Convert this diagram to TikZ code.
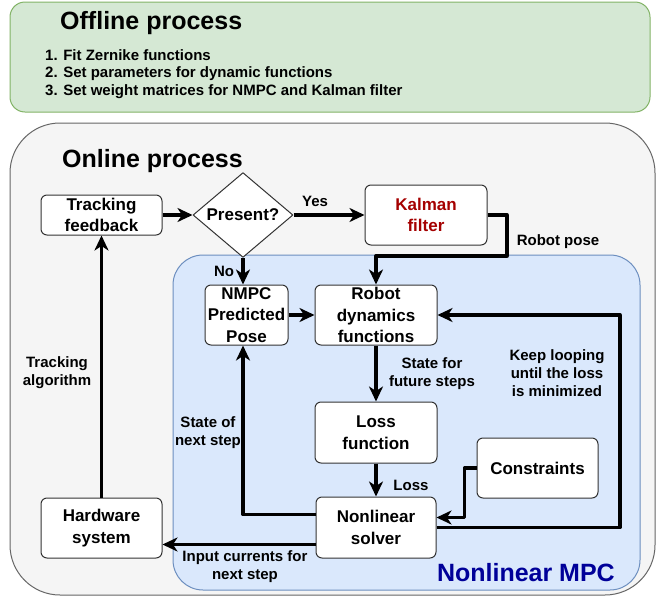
\documentclass[tikz,border=0pt]{standalone}
\usepackage{fontspec}
\setmainfont{Liberation Sans}
\usetikzlibrary{arrows.meta,shapes.geometric}

\definecolor{offfill}{HTML}{D5E8D4}
\definecolor{offdraw}{HTML}{82B366}
\definecolor{onfill}{HTML}{F5F5F5}
\definecolor{ondraw}{HTML}{666666}
\definecolor{mpcfill}{HTML}{DAE8FC}
\definecolor{mpcdraw}{HTML}{6C8EBF}
\definecolor{kalmanred}{HTML}{A50000}
\definecolor{mpcblue}{HTML}{000099}

\begin{document}
\begin{tikzpicture}[x=1pt,y=-1pt,line join=round]
    \tikzstyle{block}=[draw=black!80,line width=1pt,fill=white,rounded corners=6pt,align=center,inner sep=0pt,font=\fontsize{17}{21.5}\selectfont\bfseries]
    \tikzstyle{decision}=[block,diamond,rounded corners=0pt,minimum width=100pt,minimum height=60pt]
    \tikzstyle{lbl}=[align=center,inner sep=0pt,font=\fontsize{15}{18}\selectfont\bfseries]
    \tikzstyle{title}=[anchor=west,inner sep=0pt,font=\fontsize{25}{30}\selectfont\bfseries]
    \tikzstyle{flow}=[line width=3.3pt,-{Stealth[length=15pt,width=14pt,inset=4.5pt]}]

    \useasboundingbox (0,0) rectangle (662,603);

    % Draw the offline part
    \draw[offdraw,line width=1pt,fill=offfill,rounded corners=15pt] (10,2) rectangle (650,112);
    \node[title] (offline) at (60,23) {Offline process};
    \foreach \i/\txt in {1/Fit Zernike functions,
                         2/Set parameters for dynamic functions,
                         3/Set weight matrices for NMPC and Kalman filter}
        \node[lbl,anchor=west] (item-\i) at (45,36.5+18.5*\i) {\i. \txt};

    % Draw the online part and the NMPC region
    \draw[ondraw,line width=1pt,fill=onfill,rounded corners=50pt] (10,123) rectangle (655,595);
    \node[title] (online) at (62,161) {Online process};
    \draw[mpcdraw,line width=1pt,fill=mpcfill,rounded corners=30pt] (173,255) rectangle (640,590);
    \node[title,anchor=east,text=mpcblue] (mpc) at (615,573) {Nonlinear MPC};

    % Draw the blocks
    \node[block,minimum width=121pt,minimum height=40pt] (track) at (101.5,215) {Tracking\\feedback};
    \node[decision] (present) at (243,215) {Present?};
    \node[block,minimum width=122pt,minimum height=60pt,text=kalmanred] (kalman) at (426,215) {Kalman\\filter};
    \node[block,minimum width=83pt,minimum height=60pt] (nmpc) at (246.5,315) {NMPC\\Predicted\\Pose};
    \node[block,minimum width=122pt,minimum height=60pt] (robot) at (376,315) {Robot\\dynamics\\functions};
    \node[block,minimum width=122pt,minimum height=61pt] (loss) at (376,432.5) {Loss\\function};
    \node[block,minimum width=121pt,minimum height=60pt] (cons) at (537.5,468) {Constraints};
    \node[block,minimum width=120pt,minimum height=61pt] (solver) at (376,527.5) {Nonlinear\\solver};
    \node[block,minimum width=121pt,minimum height=60pt] (hw) at (101.5,528) {Hardware\\system};

    % Helper points for the bends
    \coordinate (kbend) at (507,256);
    \coordinate (loopR) at (620,0);
    \coordinate (sIn) at ([yshift=-17pt]solver.west);

    % Connect the blocks
    \draw[flow] (track.east) -- (present.west);
    \draw[flow] (present.east) -- (kalman.west);
    \draw[flow] (kalman.east) -| (kbend) -| (robot.north);
    \draw[flow] (present.south) -- (present.south |- nmpc.north);
    \draw[flow] (nmpc.east) -- (robot.west);
    \draw[flow] (robot.south) -- (loss.north);
    \draw[flow] (loss.south) -- (solver.north);
    \draw[flow] (cons.west) -- ++(-12,0) |- ([yshift=10pt]solver.east);
    \draw[flow] (solver.east) -| (loopR |- robot.east) -- (robot.east);
    \draw[flow] ([yshift=13pt]solver.west) -| (nmpc.south -| present.south);
    \draw[flow] (sIn) -- (sIn -| hw.east);
    \draw[flow] (hw.north) -- (track.south);

    % Annotate the connectors
    \node[lbl] (yes) at (315,201) {Yes};
    \node[lbl] (pose) at (558,242) {Robot pose};
    \node[lbl] (no) at (224,271) {No};
    \node[lbl] (future) at (432,374) {State for\\future steps};
    \node[lbl] (lossl) at (411,485) {Loss};
    \node[lbl] (keep) at (557,373) {Keep looping\\until the loss\\is minimized};
    \node[lbl] (next) at (208,433) {State of\\next step};
    \node[lbl] (algo) at (57,373) {Tracking\\algorithm};
    \node[lbl] (input) at (245,567) {Input currents for\\next step};
\end{tikzpicture}
\end{document}
